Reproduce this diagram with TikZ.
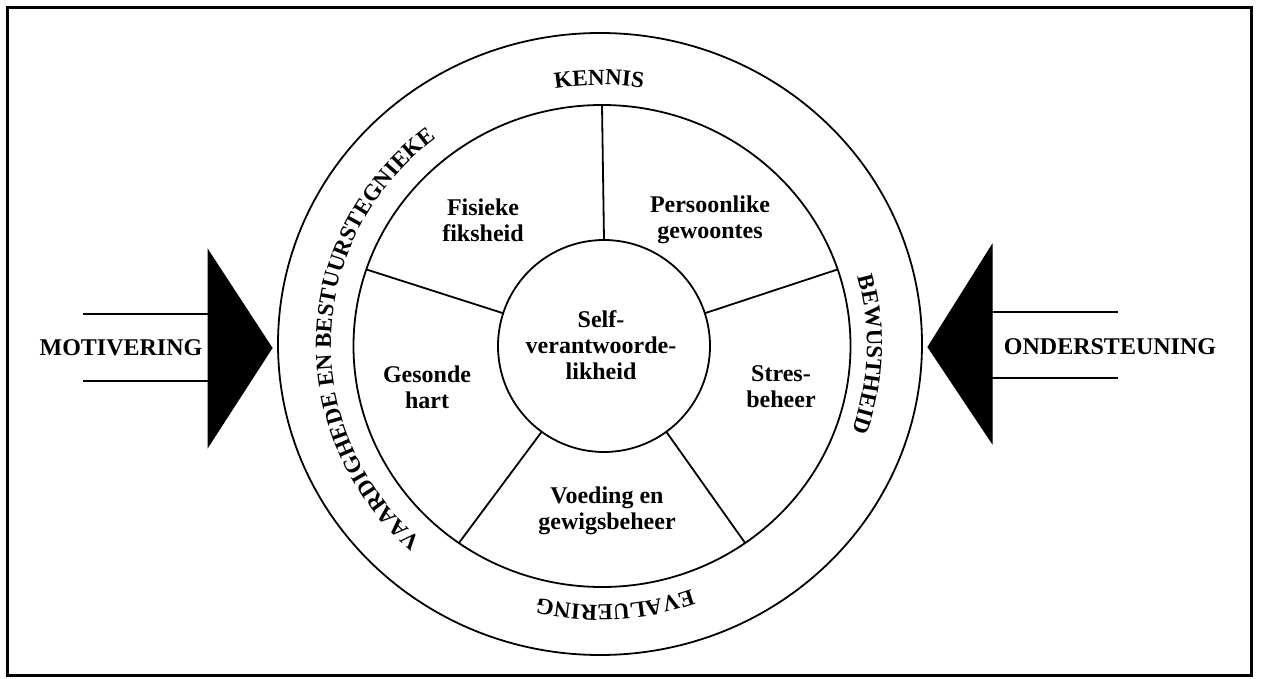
\documentclass[tikz,border=0pt]{standalone}
\usepackage{fontspec}
\setmainfont{Liberation Serif}
\usetikzlibrary{shapes.geometric,decorations.text}
\newcommand\ringfont{\fontsize{23}{23}\bfseries\selectfont}
\begin{document}
\begin{tikzpicture}[x=1pt,y=1pt,
  ln/.style={line width=1.8pt},
  lbl/.style={font=\fontsize{24}{26}\bfseries\selectfont, align=center, inner sep=0pt},
  ringtext/.style={decorate, decoration={text along path, text align=center, text={|\ringfont|#1}}},
  wedge/.style={fill=black, draw=black, line width=1pt}]
\useasboundingbox (0,0) rectangle (1261,678);
% frame
\draw[line width=3pt] (7,670) rectangle (1251,3);
% circles
\node[ellipse, draw, ln, minimum width=644pt, minimum height=622pt, inner sep=0pt, outer sep=0pt] (outer) at (600,334) {};
\node[ellipse, draw, ln, minimum width=497pt, minimum height=482pt, inner sep=0pt, outer sep=0pt] (inner) at (602,332) {};
\node[circle, draw, ln, minimum size=212pt, inner sep=0pt, outer sep=0pt] (core) at (604,332) {};
\node[lbl] (corelbl) at (601,333) {Self-\\verantwoorde-\\likheid};
% spokes
\foreach \a in {90,162,234,306,18} {\draw[ln] (core.\a) -- (inner.\a);}
% sector labels
\node[lbl] (fis) at (483,458) {Fisieke\\fiksheid};
\node[lbl] (per) at (710,458) {Persoonlike\\gewoontes};
\node[lbl] (ges) at (427,291) {Gesonde\\hart};
\node[lbl] (str) at (781,291) {Stres-\\beheer};
\node[lbl] (voe) at (607,167) {Voeding en\\gewigsbeheer};
% ring texts
\coordinate (tc) at (599,333);
\path[ringtext={KENNIS}] (tc) ++(125:268pt and 260pt) arc[start angle=125, end angle=55, x radius=268pt, y radius=260pt];
\path[ringtext={BEWUSTHEID}] (tc) ++(33:268pt and 260pt) arc[start angle=33, end angle=-37, x radius=268pt, y radius=260pt];
\path[ringtext={EVALUERING}] (tc) ++(-51:268pt and 260pt) arc[start angle=-51, end angle=-122, x radius=268pt, y radius=260pt];
\path[ringtext={VAARDIGHEDE EN BESTUURSTEGNIEKE}] (tc) ++(240:268pt and 260pt) arc[start angle=240, end angle=116, x radius=268pt, y radius=260pt];
% left arrow
\coordinate (lt) at (208,428);
\coordinate (lb) at (208,231);
\coordinate (ltip) at (272,330);
\fill[wedge] (lt) -- (ltip) -- (lb) -- cycle;
\coordinate (l1s) at (83,364);
\coordinate (l1e) at (208,364);
\coordinate (l2s) at (83,297);
\coordinate (l2e) at (208,297);
\draw[ln] (l1s) -- (l1e);
\draw[ln] (l2s) -- (l2e);
\node[lbl] (mot) at (121,330) {MOTIVERING};
% right arrow
\coordinate (rt) at (992,433);
\coordinate (rb) at (992,235);
\coordinate (rtip) at (928,331);
\fill[wedge] (rt) -- (rtip) -- (rb) -- cycle;
\coordinate (r1s) at (992,366);
\coordinate (r1e) at (1118,366);
\coordinate (r2s) at (992,300);
\coordinate (r2e) at (1118,300);
\draw[ln] (r1s) -- (r1e);
\draw[ln] (r2s) -- (r2e);
\node[lbl] (ond) at (1110,331) {ONDERSTEUNING};
\end{tikzpicture}
\end{document}
